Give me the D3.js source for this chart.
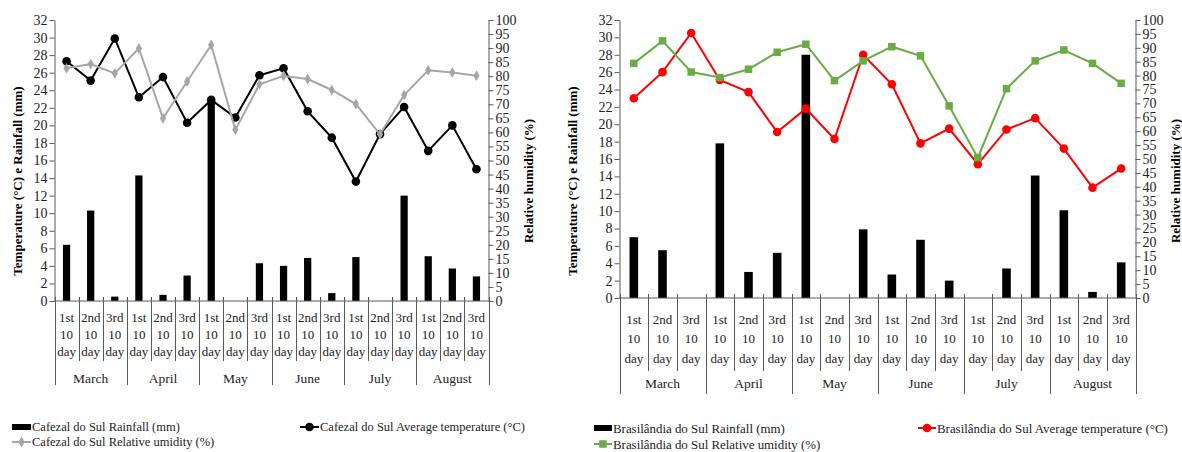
<!DOCTYPE html>
<html>
<head>
<meta charset="utf-8">
<script src="https://cdn.jsdelivr.net/npm/d3@7"></script>
<style>
  body { margin: 0; background: #fff; }
  svg { display: block; font-family: "Liberation Serif", "Times New Roman", serif; }
</style>
</head>
<body>
<svg id="chart" width="1182" height="452"></svg>
<script>
// ==================== dados ====================
const months = ["March", "April", "May", "June", "July", "August"];
const decades = ["1st", "2nd", "3rd"];
const tempTicks = [0, 2, 4, 6, 8, 10, 12, 14, 16, 18, 20, 22, 24, 26, 28, 30, 32];
const humidityTicks = [0, 5, 10, 15, 20, 25, 30, 35, 40, 45, 50, 55, 60, 65, 70, 75, 80, 85, 90, 95, 100];

const cafezalRainfall = [6.4, 10.3, 0.5, 14.3, 0.7, 2.9, 22.8, 0, 4.3, 4.0, 4.9, 0.9, 5.0, 0, 12.0, 5.1, 3.7, 2.8];
const cafezalTemperature = [27.3, 25.1, 29.9, 23.2, 25.5, 20.3, 22.9, 20.9, 25.7, 26.5, 21.6, 18.6, 13.6, 19.0, 22.1, 17.1, 20.0, 15.0];
const cafezalHumidity = [82.8, 84.3, 81.0, 89.9, 65.0, 78.1, 91.1, 60.9, 77.1, 80.1, 79.0, 75.1, 70.1, 59.3, 73.3, 82.1, 81.3, 80.2];

const brasilandiaRainfall = [7.0, 5.5, 0, 17.8, 3.0, 5.2, 28.0, 0, 7.9, 2.7, 6.7, 2.0, 0, 3.4, 14.1, 10.1, 0.7, 4.1];
const brasilandiaTemperature = [23.0, 26.0, 30.5, 25.1, 23.7, 19.1, 21.8, 18.3, 28.0, 24.6, 17.8, 19.5, 15.4, 19.4, 20.7, 17.2, 12.7, 14.9];
const brasilandiaHumidity = [84.4, 92.5, 81.3, 79.3, 82.3, 88.4, 91.3, 78.2, 85.3, 90.4, 87.1, 69.1, 50.5, 75.3, 85.3, 89.2, 84.4, 77.2];

const categories = months.flatMap(m => decades.map(d => m + "|" + d));

const svg = d3.select("#chart");
const axisColor = "#595959";

// desenha o marcador de uma série
function marcador(g, tipo, cx, cy, cor) {
    if (tipo === "circle") {
        g.append("circle").attr("cx", cx).attr("cy", cy).attr("r", 4.3).attr("fill", cor);
    } else {
        const sym = tipo === "square" ? d3.symbolSquare : d3.symbolDiamond;
        const size = tipo === "square" ? 56 : 34;
        g.append("path")
            .attr("d", d3.symbol(sym, size)())
            .attr("transform", `translate(${cx},${cy})`)
            .attr("fill", cor);
    }
}

function desenharPainel(o) {
    const g = svg.append("g");

    const x = d3.scaleBand().domain(categories).range([o.x0, o.x1]);
    const y = d3.scaleLinear().domain([0, 32]).range([o.bottom, o.top]);
    const y2 = d3.scaleLinear().domain([0, 100]).range([o.bottom, o.top]);
    const bw = x.bandwidth();
    const cx = c => x(c) + bw / 2;

    // barras de chuva
    g.append("g").selectAll("rect")
        .data(o.rainfall)
        .join("rect")
        .attr("x", (d, i) => cx(categories[i]) - bw * 0.15)
        .attr("width", bw * 0.3)
        .attr("y", d => y(d))
        .attr("height", d => o.bottom - y(d))
        .attr("fill", "#000");

    // eixos y
    const eixoEsq = g.append("g")
        .attr("transform", `translate(${o.x0},0)`)
        .call(d3.axisLeft(y).tickValues(tempTicks).tickSize(5).tickSizeOuter(0).tickPadding(2));
    const eixoDir = g.append("g")
        .attr("transform", `translate(${o.x1},0)`)
        .call(d3.axisRight(y2).tickValues(humidityTicks).tickSize(5).tickSizeOuter(0).tickPadding(2));
    [eixoEsq, eixoDir].forEach(e => {
        e.selectAll("path, line").attr("stroke", axisColor);
        e.selectAll("text").attr("font-family", "Liberation Serif").attr("font-size", 14).attr("fill", "#222");
    });

    // eixo x multinível
    g.append("line")
        .attr("x1", o.x0).attr("x2", o.x1)
        .attr("y1", o.bottom).attr("y2", o.bottom)
        .attr("stroke", axisColor);
    d3.range(categories.length + 1).forEach(i => {
        const xx = Math.round(o.x0 + i * bw) + 0.5;
        g.append("line")
            .attr("x1", xx).attr("x2", xx)
            .attr("y1", o.bottom - 4)
            .attr("y2", i % 3 === 0 ? o.monthSepBottom : o.sepBottom)
            .attr("stroke", axisColor);
    });
    categories.forEach((c, i) => {
        const linhas = [c.split("|")[1], "10", "day"];
        linhas.forEach((t, k) => {
            g.append("text")
                .attr("x", cx(c)).attr("y", o.rows[k])
                .attr("dy", "0.35em")
                .attr("text-anchor", "middle")
                .attr("font-size", 13)
                .attr("fill", "#222")
                .text(t);
        });
    });
    months.forEach(m => {
        g.append("text")
            .attr("x", x(m + "|1st") + bw * 1.5).attr("y", o.monthY)
            .attr("dy", "0.35em")
            .attr("text-anchor", "middle")
            .attr("font-size", 13.5)
            .attr("fill", "#222")
            .text(m);
    });

    // títulos dos eixos
    g.append("text")
        .attr("transform", `translate(${o.titleLeftX},${o.titleY}) rotate(-90)`)
        .attr("text-anchor", "middle")
        .attr("dy", "0.35em")
        .attr("font-size", 13).attr("font-weight", "bold")
        .text("Temperature  (°C) e Rainfall (mm)");
    g.append("text")
        .attr("transform", `translate(${o.titleRightX},${o.titleY}) rotate(-90)`)
        .attr("text-anchor", "middle")
        .attr("dy", "0.35em")
        .attr("font-size", 13).attr("font-weight", "bold")
        .text("Relative humidity  (%)");

    // linhas de temperatura e umidade
    const linhaT = d3.line().x((d, i) => cx(categories[i])).y(d => y(d));
    const linhaU = d3.line().x((d, i) => cx(categories[i])).y(d => y2(d));

    g.append("path").attr("d", linhaT(o.temperature))
        .attr("fill", "none").attr("stroke", o.tempColor).attr("stroke-width", 2);
    o.temperature.forEach((d, i) => marcador(g, "circle", cx(categories[i]), y(d), o.tempColor));

    g.append("path").attr("d", linhaU(o.humidity))
        .attr("fill", "none").attr("stroke", o.humColor).attr("stroke-width", 2);
    o.humidity.forEach((d, i) => marcador(g, o.humMarker, cx(categories[i]), y2(d), o.humColor));

    // legenda
    const L = o.legend;
    const lg = svg.append("g").attr("font-size", L.fs).attr("fill", "#222");
    lg.append("rect").attr("x", L.x).attr("y", L.row1 - 3).attr("width", L.w).attr("height", 6).attr("fill", "#000");
    lg.append("text").attr("x", L.x + L.w + 1).attr("y", L.row1).attr("dy", "0.35em").text(o.name + "Rainfall (mm)");

    lg.append("line").attr("x1", L.x2).attr("x2", L.x2 + L.w).attr("y1", L.row1).attr("y2", L.row1)
        .attr("stroke", o.tempColor).attr("stroke-width", 2);
    marcador(lg, "circle", L.x2 + L.w / 2, L.row1, o.tempColor);
    lg.append("text").attr("x", L.x2 + L.w + 1).attr("y", L.row1).attr("dy", "0.35em").text(o.name + "Average temperature (°C)");

    lg.append("line").attr("x1", L.x).attr("x2", L.x + L.w).attr("y1", L.row2).attr("y2", L.row2)
        .attr("stroke", o.humColor).attr("stroke-width", 2);
    marcador(lg, o.humMarker, L.x + L.w / 2, L.row2, o.humColor);
    lg.append("text").attr("x", L.x + L.w + 1).attr("y", L.row2).attr("dy", "0.35em").text(o.name + "Relative umidity (%)");
}

desenharPainel({
    name: "Cafezal do Sul ",
    x0: 54.5, x1: 488.5, top: 20, bottom: 301,
    rows: [317.5, 334.5, 351.5], monthY: 378,
    sepBottom: 361, monthSepBottom: 385,
    titleLeftX: 17, titleRightX: 528, titleY: 181,
    rainfall: cafezalRainfall, temperature: cafezalTemperature, humidity: cafezalHumidity,
    tempColor: "#000", humColor: "#a6a6a6", humMarker: "diamond",
    legend: { x: 12, x2: 300, w: 19, row1: 427, row2: 442, fs: 12.5 }
});

desenharPainel({
    name: "Brasilândia do Sul  ",
    x0: 619.5, x1: 1135.5, top: 20, bottom: 298,
    rows: [319, 338.5, 358], monthY: 383,
    sepBottom: 371, monthSepBottom: 394,
    titleLeftX: 572, titleRightX: 1175, titleY: 181,
    rainfall: brasilandiaRainfall, temperature: brasilandiaTemperature, humidity: brasilandiaHumidity,
    tempColor: "#ff0000", humColor: "#6bab45", humMarker: "square",
    legend: { x: 594, x2: 918, w: 18, row1: 428, row2: 444, fs: 12.9 }
});
</script>
</body>
</html>
